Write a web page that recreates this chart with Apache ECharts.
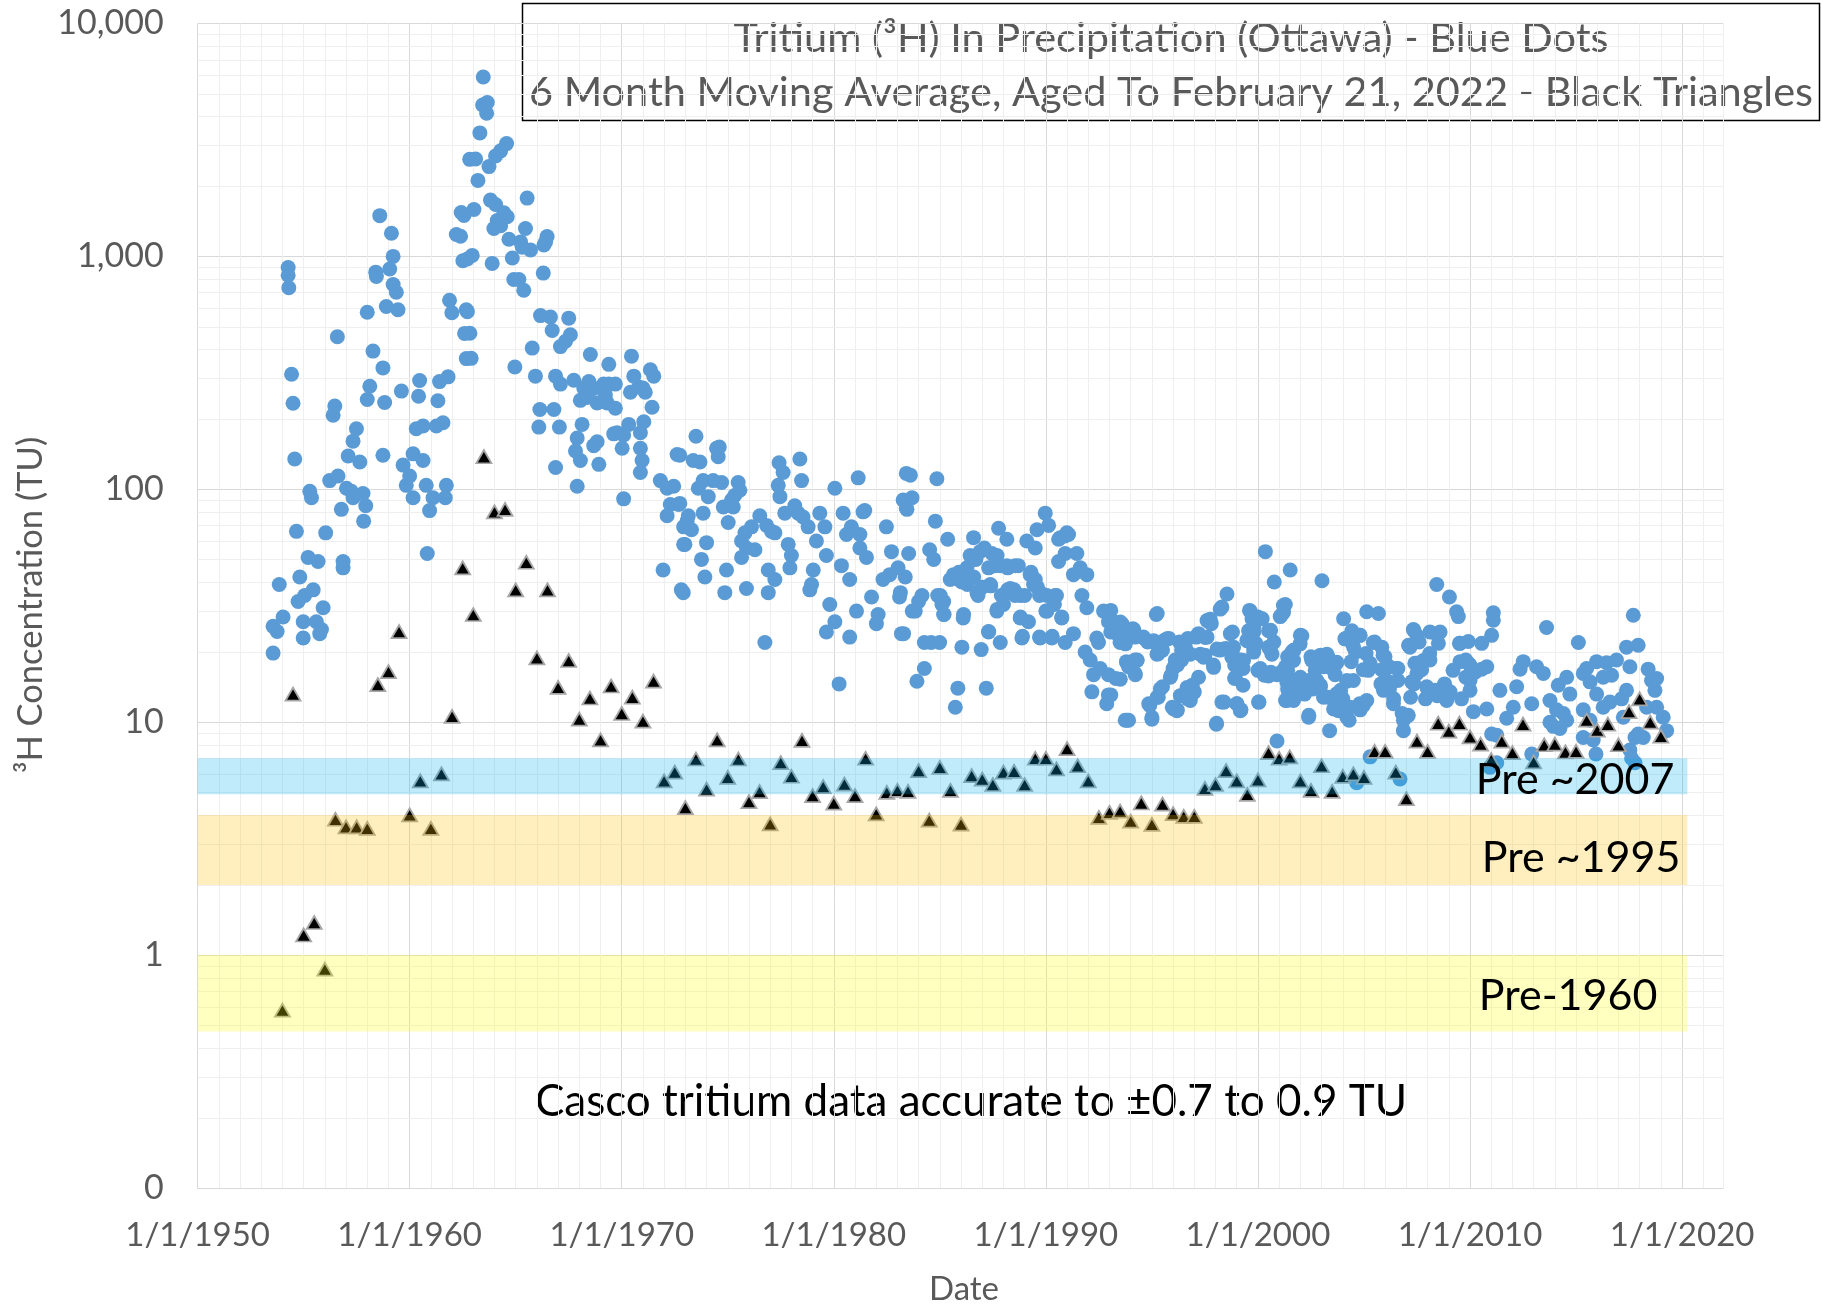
<!DOCTYPE html>
<html><head><meta charset="utf-8">
<script src="https://cdn.jsdelivr.net/npm/echarts@6/dist/echarts.min.js"></script>
<style>html,body{margin:0;padding:0;background:#fff}#chart{width:1822px;height:1306px}</style>
</head><body><div id="chart"></div>
<script>
// ---------- data ----------
const xTickYears = [1950, 1960, 1970, 1980, 1990, 2000, 2010, 2020];
const yTickValues = [0.1, 1, 10, 100, 1000, 10000];
const yTickLabels = ['0', '1', '10', '100', '1,000', '10,000'];
const bandNames = ['Pre ~2007', 'Pre ~1995', 'Pre-1960'];
const bandLow = [4.9, 2.0, 0.47];
const bandHigh = [7.0, 4.0, 1.0];

// Tritium in precipitation (Ottawa), [decimal year, TU]
const ottawaPrecip = [
[1953.56,19.8],[1953.56,25.8],[1953.75,24.5],[1953.85,39],[1954.03,28.3],
[1954.27,895],[1954.27,830],[1954.3,733],[1954.43,312],[1954.5,234],[1954.58,135],
[1954.66,66],[1954.74,33],[1954.82,42],[1954.98,27],[1954.98,23],[1955.05,35],
[1955.21,51],[1955.29,98],[1955.37,92],[1955.45,37],[1955.6,27],[1955.68,49],
[1955.76,24],[1955.84,25],[1955.92,31],[1956.04,65],[1956.23,109],[1956.39,208],
[1956.47,228],[1956.59,452],[1956.62,114],[1956.78,82],[1956.86,49],[1956.86,46],
[1957.02,101],[1957.1,139],[1957.25,98],[1957.33,92],[1957.33,161],[1957.49,182],
[1957.65,131],[1957.8,96],[1957.83,73],[1957.93,85],[1958.0,576],[1958.0,243],
[1958.12,277],[1958.27,392],[1958.4,856],[1958.43,820],[1958.59,1496],[1958.74,332],
[1958.74,140],[1958.82,236],[1958.9,609],[1959.06,883],[1959.14,1257],[1959.22,1000],
[1959.22,757],[1959.37,702],[1959.45,590],[1959.61,264],[1959.69,127],[1959.84,104],
[1960.0,114],[1960.16,142],[1960.16,92],[1960.31,182],[1960.42,251],[1960.47,293],
[1960.63,133],[1960.63,187],[1960.78,104],[1960.83,53],[1960.94,81],[1961.1,92],
[1961.26,187],[1961.33,240],[1961.41,290],[1961.57,193],[1961.68,92],[1961.73,104],
[1961.81,304],[1961.88,648],[1961.99,573],[1962.2,1242],[1962.43,1543],[1962.51,958],
[1962.59,467],[1962.67,590],[1962.67,364],[1962.83,2610],
[1962.4,1220],[1962.56,1500],[1962.72,974],[1962.72,579],[1962.84,468],[1962.9,365],
[1962.95,1010],[1963.03,1590],[1963.11,2620],[1963.22,2120],[1963.31,3390],[1963.44,4470],
[1963.47,5890],[1963.63,4120],[1963.66,4580],[1963.74,2430],[1963.81,1745],[1963.89,933],
[1963.97,1318],[1964.05,2700],[1964.05,1670],[1964.13,1426],[1964.29,2840],[1964.29,1353],
[1964.44,1540],[1964.57,3050],[1964.6,1480],[1964.68,1185],[1964.84,984],[1964.91,796],
[1964.96,335],[1965.15,796],[1965.23,1154],[1965.31,1096],[1965.38,716],[1965.46,1318],
[1965.54,1780],[1965.7,1065],[1965.78,404],[1965.93,306],[1966.09,185],[1966.14,220],
[1966.17,557],[1966.3,848],[1966.33,1120],[1966.41,1154],[1966.48,1216],[1966.64,549],
[1966.72,481],[1966.8,220],[1966.88,306],[1966.88,124],[1967.06,185],[1967.11,283],
[1967.11,410],[1967.35,432],[1967.5,543],[1967.58,461],[1967.74,294],[1967.82,146],
[1967.9,166],[1967.9,103],[1968.05,241],[1968.05,133],[1968.13,190],[1968.21,272],
[1968.37,248],[1968.45,290],[1968.52,379],[1968.68,271],[1968.68,154],[1968.84,235],
[1968.84,160],[1968.92,128],[1969.15,283],[1969.23,254],[1969.31,235],[1969.39,344],
[1969.39,283],[1969.62,173],[1969.7,283],[1969.7,223],[1969.78,175],[1970.02,150],
[1970.09,171],[1970.09,91],[1970.33,190],[1970.41,261],[1970.46,373],[1970.57,306],
[1970.8,275],[1970.88,175],[1970.88,150],[1970.88,118],[1970.96,133],[1971.0,272],
[1971.04,195],[1971.11,261],[1971.35,326],[1971.43,225],[1971.51,306],[1971.82,109],
[1971.95,45],[1972.14,101],[1972.14,77],[1972.29,86],[1972.45,103],[1972.61,141],
[1972.68,86],[1972.81,37],[1972.92,69],[1972.92,58],[1973.08,73],
[1972.74,140],[1972.74,87],[1972.9,36],[1972.98,58],[1973.14,77],[1973.29,67],
[1973.37,133],[1973.5,169],[1973.61,101],[1973.69,131],[1973.76,50],[1973.84,109],
[1973.84,79],[1973.92,42],[1974.0,59],[1974.08,93],[1974.31,109],[1974.47,150],
[1974.55,138],[1974.6,152],[1974.71,107],[1974.79,84],[1974.86,36],[1974.94,45],
[1975.02,72],[1975.18,90],[1975.26,84],[1975.33,94],[1975.49,107],[1975.57,99],
[1975.65,60],[1975.65,51],[1975.81,65],[1975.88,56],[1975.88,37.5],[1976.12,69],
[1976.28,55],[1976.51,77],[1976.75,22],[1976.83,70],[1976.91,45],[1976.91,36],
[1977.06,66],[1977.22,65],[1977.22,41],[1977.38,104],[1977.42,130],[1977.46,93],
[1977.61,118],[1977.69,79],[1977.85,58],[1977.93,46],[1978.0,52],[1978.16,85],
[1978.32,79],[1978.4,135],[1978.48,109],[1978.55,76],[1978.79,69],[1978.87,37],
[1978.95,39],[1979.03,45],[1979.18,60],[1979.34,79],[1979.58,69],[1979.65,52],
[1979.65,24.4],[1979.81,32],[1980.05,101],[1980.05,27],[1980.25,14.6],[1980.36,47],
[1980.44,79],[1980.6,64],[1980.75,41],[1980.75,23.2],[1980.83,69],[1981.07,30],
[1981.15,112],[1981.23,64],[1981.23,56],[1981.38,80],[1981.46,81],[1981.54,51],
[1981.78,34.5],[1982.01,26.5],[1982.09,29],[1982.32,41],[1982.48,69],[1982.64,43],
[1982.72,54],[1983.03,46],[1983.19,24],[1983.27,90],[1983.42,117],[1983.42,83],
[1983.14,36],[1983.29,24],[1983.37,42],[1983.45,82],[1983.53,53],[1983.61,115],
[1983.69,92],[1983.84,30],[1983.92,15],[1984.16,35],[1984.27,22],[1984.27,17],
[1984.52,55],[1984.59,22],[1984.71,50],[1984.79,73],[1984.86,111],[1984.99,22],
[1985.02,35],[1985.18,33],[1985.18,29],[1985.37,61],[1985.49,41],[1985.65,43],
[1985.73,11.6],[1985.85,14],[1985.88,41],[1986.04,21],[1986.12,29],[1986.2,41],
[1986.28,46],[1986.43,52],[1986.51,50],[1986.59,62],[1986.75,36],[1986.95,20.5],
[1986.98,38],[1987.19,14],[1987.3,24.5],[1987.38,39],[1987.46,53],[1987.69,30],
[1987.77,68],[1987.85,47],[1987.85,22],[1988.0,35],[1988.16,61],[1988.16,47],
[1988.32,37.5],[1988.55,47],[1988.55,35],[1988.79,28],[1988.87,23],[1989.1,60],
[1989.18,27],[1989.26,43],[1989.42,39],[1989.5,56],[1989.58,67],[1989.73,36],
[1989.73,23],[1989.97,79],[1990.05,35],[1990.05,30],[1990.13,70],[1990.28,23],
[1990.44,35],[1990.6,49],[1990.68,62],[1990.75,28],[1990.91,53],[1990.91,22],
[1990.99,65],[1991.07,64],[1991.3,43],[1991.3,24],[1991.46,53],[1991.62,46],
[1991.7,35],[1991.85,20],[1991.93,43],[1991.93,31],[1992.09,18.5],[1992.17,13.5],
[1992.25,16],[1992.4,23],[1992.48,22],[1992.56,17],[1992.72,30],[1992.87,12],
[1992.95,16],[1992.95,13.1],[1992.95,27],[1993.19,27],[1993.35,24],[1993.5,22],
[1993.58,26],[1993.74,10.2],[1993.82,18],
[1985.9,44],[1986.04,40],[1986.3,39],[1986.6,42],[1986.7,50],[1986.9,54],[1987.1,56],
[1987.3,46],[1987.6,47],[1987.7,52],[1988.2,46],[1988.7,47],[1989.3,44],[1989.5,41],
[1989.6,38],[1987.0,38],[1986.8,35],[1987.4,38.5],[1987.9,35],[1988.2,37],[1988.5,37],
[1988.8,35],[1989.0,35],[1987.7,30.5],[1988.0,32],[1989.7,35],[1990.0,30],[1990.4,32],
[1990.5,35],[1988.8,28.3],[1983.1,34.5],[1983.7,30],[1984.0,33],[1984.9,35],[1985.1,32],
[1985.2,29],[1986.1,28],[1987.3,24.4],[1988.9,23.4],[1989.7,23.2],[1990.3,23.4],
[1990.75,28.3],[1990.6,61],[1990.9,63],
[1993.51,26.9],[1993.51,15.3],[1993.67,24],[1993.75,21.7],[1993.83,10.2],[1993.98,18.1],
[1994.14,25],[1994.22,16],[1994.3,18.4],[1994.61,23],[1994.85,12],[1995.0,10.3],
[1995.08,22.4],[1995.21,29],[1995.24,19.6],[1995.24,12.8],[1995.4,13.9],[1995.71,22.8],
[1995.87,15.6],[1996.03,11.4],[1996.1,17.6],[1996.18,11.2],[1996.34,19],[1996.34,13],
[1996.58,21],[1996.66,14.1],[1996.81,19.6],[1996.81,12.4],[1996.89,13.2],[1997.13,23.5],
[1997.28,19.6],[1997.44,19],[1997.52,23.1],[1997.6,27.3],[1997.75,27.7],[1997.91,17.2],
[1998.04,9.8],[1998.07,20.6],[1998.22,30.6],[1998.3,12.2],[1998.38,20.6],[1998.54,35.5],
[1998.7,24],[1998.77,19],[1998.85,21],[1998.93,15.6],[1999.01,12],[1999.17,11.2],
[1999.32,18.4],[1999.48,22.4],[1999.56,24.7],[1999.64,30],[1999.72,27.8],[1999.8,25.6],
[1999.8,20],[2000.03,12.2],[2000.11,17],[2000.11,27.8],[2000.35,54],[2000.5,15.8],
[2000.5,24.7],[2000.5,21],[2000.66,19.6],[2000.77,40],[2000.9,16],[2000.9,8.3],
[2001.05,28.4],[2001.21,29.7],[2001.21,16.7],[2001.29,32],[2001.37,14.8],[2001.37,12.4],
[2001.52,45],[2001.52,14],[2001.68,18.4],[2001.68,20.3],[2001.68,12.4],[2001.6,20],
[2001.84,13.2],[2001.99,14.4],[2001.99,21.7],[2002.07,23.5],[2002.23,14.8],[2002.39,10.5],
[2002.54,18.4],[2002.78,15.1],[2002.94,14.1],[2003.02,40.5],[2003.09,12.8],[2003.25,19.6],
[2003.38,9.2],[2003.41,17.2],[2003.57,11.4],[2003.64,16],[2003.72,18.1],[2003.8,11.2],
[2003.88,13.2],[2004.04,27.8],[2004.19,23],[2004.19,15],[2004.19,10.5],[2004.43,24.7],
[2004.51,21],
[1993.06,30.2],[1993.2,25.6],[1993.6,26.4],[1993.06,24.4],[1994.1,25.2],[1994.2,23.2],
[1994.6,23.2],[1994.8,22.1],[1995.2,21.8],[1995.6,22.5],[1995.8,22.9],[1993.8,18.2],
[1994.2,18.5],[1994.3,18.5],[1994.2,16.2],[1993.9,17.3],[1993.3,15.4],[1993.06,13.1],
[1995.25,29.3],[1995.3,19.7],[1995.5,20.4],[1996.3,22.1],[1996.7,22.9],[1997.1,23.2],
[1997.6,23.2],[1997.2,24],[1996.4,20.4],[1996.6,19.7],[1996.1,18.5],[1995.9,15.9],
[1996.0,17],[1996.2,17.6],[1996.4,18.5],[1997.2,15.6],[1996.9,14.4],[1996.8,13.2],
[1996.4,13],[1996.7,12.6],[1997.0,13.5],[1995.5,14.2],[1995.3,12.8],[1994.9,11.8],
[1995.0,10.5],[1995.96,11.6],[1996.2,11.3],[1993.9,10.2],[1997.7,27.4],[1997.8,26.5],
[1998.3,31.2],[1998.8,24.4],[1998.2,20.4],[1998.5,20.7],[1998.8,20.4],[1997.5,19.4],
[1997.9,17.6],[1998.9,17.6],[1999.2,18.5],[1999.3,17],[1998.9,15.4],[1999.3,14.4],
[1999.0,12],[1999.2,11.3],[1998.4,12.2],[1998.05,9.9],[2000.05,12.2],[1999.6,30.2],
[2000.0,28.3],[2000.2,27.8],[1999.5,22.5],[1999.8,24.4],[1999.9,21.8],[1999.8,20.7],
[2000.6,24.8],[2000.6,20.4],[2000.75,22.1],[2000.0,16.7],[2000.3,15.9],[2000.6,16.4],
[2001.1,16.4],[2001.3,17.3],[2001.4,19.1],[2001.1,28.8],[2001.2,31.7],[2001.4,12.8],
[2002.0,23.6],[2001.7,20.4],[2004.1,22.8],[2004.8,23.6],[2004.4,22.1],[2005.5,22.1],
[2005.9,19.4],[2005.1,19.7],[2004.6,20],[2004.4,18.2],[2005.2,16.7],[2007.35,24.8],
[2007.1,21.4],[2007.6,22.1],[2008.4,24],[2008.1,19.7],[2007.8,18.4],[2007.4,17.9],
[2007.5,16.2],[2008.0,13.9],[2007.9,12.6],[2008.45,13],[2008.8,14.6],[2008.9,13.7],
[2009.2,16.7],[2009.5,21.8],[2009.8,18.5],[2009.8,15.6],[2009.6,12.6],[2002.5,19.1],
[2002.95,19.4],[2003.3,19.1],[2003.7,17.9],[2003.1,17.3],[2002.7,16.7],[2001.4,16.7],
[2001.7,15.1],[2002.0,15.6],[2002.4,15.1],[2002.6,13.9],[2002.2,13.2],[2001.4,13.9],
[2001.3,12.4],[2002.95,14.4],[2003.3,12.8],[2003.7,13.2],[2004.0,12.6],[2003.9,13.7],
[2004.2,15.1],[2003.7,11.8],[2004.1,11.6],[2004.3,10.2],[2004.8,12],[2004.8,11.4],
[2002.4,10.7],[2005.9,16.7],[2006.2,17.3],[2006.6,17],[2005.8,14.6],[2006.2,13.9],
[2006.4,12.6],[2006.6,15.1],[2007.2,12.8],[2007.35,14.6],[2006.8,10.9],[2010.0,17.6],
[2010.0,15.1],
[2004.34,23.2],[2004.34,11.6],[2004.5,15.1],[2004.66,5.5],[2004.82,23.6],[2004.82,11.3],
[2004.97,16.8],[2004.97,11.8],[2005.13,29.8],[2005.13,12.4],[2005.29,17.9],[2005.29,7.1],
[2005.44,22],[2005.68,29.3],[2005.84,21],[2005.84,16.8],[2005.92,13.7],[2005.99,19.1],
[2006.07,15.1],[2006.23,14.6],[2006.39,12],[2006.54,17],[2006.7,5.7],[2006.86,10.2],
[2006.86,9.2],[2007.09,10.7],[2007.17,21],[2007.25,14.9],[2007.33,25],[2007.49,23.6],
[2007.49,17.9],[2007.72,16.8],[2007.96,14.2],[2008.11,24.4],[2008.11,18.5],[2008.35,13.7],
[2008.43,39],[2008.51,21.8],[2008.59,24.4],[2008.74,14.2],[2008.9,12.4],[2009.03,34.5],
[2009.06,13.5],[2009.37,29.8],[2009.45,28.4],[2009.53,21.8],[2009.53,18.2],[2009.92,22.2],
[2009.92,17.9],[2010.0,13.7],[2010.16,11.1],[2010.24,16.4],[2010.55,21.8],[2010.55,16.9],
[2010.79,17.3],[2010.79,11.4],[2010.94,6.4],[2011.02,23.6],[2011.02,8.9],[2011.1,29.5],
[2011.1,27.4],[2011.26,8.8],[2011.26,6.7],[2011.41,13.7],[2011.73,10.4],[2012.04,11.6],
[2012.2,14.2],[2012.36,16.9],[2012.51,18.2],[2012.91,12],[2012.91,7.3],[2013.14,17.3],
[2013.46,16.2],[2013.61,25.5],[2013.77,12.4],[2013.77,10],[2013.93,9.6],[2014.08,11.3],
[2014.16,14.4],[2014.24,9.4],[2014.4,10.9],[2014.56,15.6],[2014.56,10.2],[2014.71,13.2],
[2015.11,22],[2015.34,16.2],[2015.34,11.3],[2015.34,8.6],[2015.5,17],[2015.66,14.9],
[2015.66,10.2],[2015.81,8.4],[2015.94,7.3],[2015.97,18.2],[2015.97,13.2],
[2016.28,15.6],[2016.28,11.6],[2016.44,18],[2016.6,12.2],[2016.68,15.9],[2016.91,18.5],
[2017.15,12.6],[2017.23,10.5],[2017.38,21],[2017.38,13.7],[2017.54,17.3],[2017.54,7.6],
[2017.62,7],[2017.7,28.8],[2017.78,8.6],[2017.78,6.7],[2017.93,21.4],[2017.93,8.9],
[2018.17,8.6],[2018.33,11.6],[2018.4,16.9],[2018.56,15.1],[2018.72,13.7],[2018.8,15.4],
[2018.8,11.6],[2019.11,10.5],[2019.27,9.2]
];

// 6 month moving average, aged to Feb 21, 2022, [decimal year, TU]
const agedAverage = [
[1954.0,0.58],[1954.5,13.2],[1955.0,1.22],[1955.5,1.38],[1956.0,0.87],[1956.5,3.83],
[1957.0,3.55],[1957.5,3.55],[1958.0,3.5],[1958.5,14.5],[1959.0,16.5],[1959.5,24.5],
[1960.0,4.0],[1960.5,5.6],[1961.0,3.5],[1961.5,6.0],[1962.0,10.6],[1962.5,46],
[1963.0,29],[1963.5,138],[1964.0,80],[1964.5,82],[1965.0,37],[1965.5,48.6],
[1966.0,18.9],[1966.5,37],[1967.0,14.1],[1967.5,18.4],[1968.0,10.3],[1968.5,12.7],
[1969.0,8.4],[1969.5,14.3],[1970.0,10.9],[1970.5,12.8],[1971.0,10.1],[1971.5,15.0],
[1972.0,5.6],[1972.5,6.1],[1973.0,4.3],[1973.5,6.95],[1974.0,5.16],[1974.5,8.4],
[1975.0,5.8],[1975.5,6.95],[1976.0,4.56],[1976.5,5.03],[1977.0,3.66],[1977.5,6.7],
[1978.0,5.86],[1978.5,8.35],[1979.0,4.84],[1979.5,5.29],[1980.0,4.49],[1980.5,5.42],
[1981.0,4.84],[1981.5,7.0],[1982.0,4.04],[1982.5,5.0],[1983.0,5.1],[1983.5,5.05],
[1984.0,6.2],[1984.5,3.8],[1985.0,6.4],[1985.5,5.1],[1986.0,3.65],[1986.5,5.9],
[1987.0,5.7],[1987.5,5.4],[1988.0,6.1],[1988.5,6.15],[1989.0,5.4],[1989.5,7.0],
[1990.0,7.0],[1990.5,6.3],[1991.0,7.7],[1991.5,6.5],[1992.0,5.6],[1992.5,3.9],
[1993.0,4.1],[1993.5,4.15],[1994.0,3.76],[1994.5,4.5],[1995.0,3.64],[1995.5,4.45],
[1996.0,4.05],[1996.5,3.94],[1997.0,3.94],[1997.5,5.2],[1998.0,5.4],[1998.5,6.2],
[1999.0,5.6],[1999.5,4.9],[2000.0,5.65],[2000.5,7.4],[2001.0,7.0],[2001.5,7.1],
[2002.0,5.6],[2002.5,5.1],[2003.0,6.5],[2003.5,5.05],[2004.0,5.85],[2004.5,6.0],
[2005.0,5.8],[2005.5,7.5],[2006.0,7.5],[2006.5,6.1],[2007.0,4.7],[2007.5,8.3],
[2008.0,7.5],[2008.5,9.9],[2009.0,9.15],[2009.5,9.9],[2010.0,8.65],[2010.5,8.05],
[2011.0,6.9],[2011.5,8.3],[2012.0,7.4],[2012.5,9.8],[2013.0,6.76],[2013.5,8.0],
[2014.0,8.05],[2014.5,7.45],[2015.0,7.5],[2015.5,10.2],[2016.0,9.25],[2016.5,9.8],
[2017.0,8.0],[2017.5,11.1],[2018.0,12.6],[2018.5,10.0],[2019.0,8.7]
];

// ---------- chart ----------
const X_MIN = 1950, X_MAX = 2021.93, BAND_END = 2020.25;
const FONT = 'Lato, "Noto Sans", sans-serif';
const GREY = '#595959';

// minor log gridlines (2..9 within each decade)
const minorY = [];
for (let i = 0; i < yTickValues.length - 1; i++) {
  for (let k = 2; k <= 9; k++) minorY.push(+(yTickValues[i] * k).toPrecision(3));
}
const xSplitColors = ['#d9d9d9'].concat(Array(9).fill('#efefef'));
const bandFill = ['rgba(0,176,240,0.25)', 'rgba(255,192,0,0.25)', 'rgba(255,255,0,0.25)'];
const bandLabelLayout = [{dx: -13, dy: 4}, {dx: -7, dy: 8}, {dx: -30, dy: 3}];

const chart = echarts.init(document.getElementById('chart'), null, {renderer: 'canvas'});
chart.setOption({
  animation: false,
  backgroundColor: '#ffffff',
  textStyle: {fontFamily: FONT},
  grid: {left: 197.6, right: 99, top: 23.5, bottom: 118, containLabel: false},
  xAxis: {
    type: 'value', min: X_MIN, max: X_MAX, interval: 1,
    axisLine: {show: true, lineStyle: {color: '#d9d9d9', width: 1}},
    axisTick: {show: false},
    axisLabel: {
      margin: 31, color: GREY, fontSize: 33, fontFamily: FONT,
      formatter: v => xTickYears.indexOf(v) >= 0 ? '1/1/' + v : ''
    },
    splitLine: {show: true, lineStyle: {color: xSplitColors, width: 1}}
  },
  yAxis: {
    type: 'log', logBase: 10, min: yTickValues[0], max: yTickValues[yTickValues.length - 1],
    axisLine: {show: false}, axisTick: {show: false},
    axisLabel: {
      margin: 34, color: GREY, fontSize: 34, fontFamily: FONT,
      formatter: v => {
        const idx = yTickValues.findIndex(t => Math.abs(Math.log10(t) - Math.log10(v)) < 1e-6);
        return idx >= 0 ? yTickLabels[idx] : '';
      }
    },
    splitLine: {show: true, lineStyle: {color: '#d9d9d9', width: 1}}
  },
  series: [
    {
      name: 'minorGrid', type: 'custom', z: 1, silent: true,
      data: minorY.map(v => [X_MIN, v]),
      encode: {x: 0, y: 1},
      renderItem: (params, api) => {
        const y = Math.round(api.coord([X_MIN, api.value(1)])[1]) + 0.5;
        const cs = params.coordSys;
        return {type: 'line', shape: {x1: cs.x, y1: y, x2: cs.x + cs.width, y2: y},
                style: {stroke: '#efefef', lineWidth: 1}};
      }
    },
    {
      name: 'Tritium in precipitation (Ottawa)', type: 'scatter', z: 2,
      data: ottawaPrecip, symbol: 'circle', symbolSize: 15,
      itemStyle: {color: '#5b9bd5', opacity: 1}
    },
    {
      name: '6 month moving average, aged', type: 'scatter', z: 3,
      data: agedAverage, symbol: 'triangle', symbolSize: [15, 13],
      itemStyle: {color: '#000000', borderColor: '#a6a6a6', borderWidth: 1.8, opacity: 1}
    },
    {
      name: 'bands', type: 'custom', z: 4, silent: true,
      data: bandNames.map((n, i) => [X_MIN, bandLow[i], bandHigh[i], i]),
      encode: {x: 0, y: [1, 2]},
      renderItem: (params, api) => {
        const i = api.value(3);
        const pTop = api.coord([X_MIN, api.value(2)]);
        const pBot = api.coord([BAND_END, api.value(1)]);
        const lay = bandLabelLayout[i];
        return {
          type: 'group',
          children: [
            {type: 'rect', shape: {x: pTop[0], y: pTop[1], width: pBot[0] - pTop[0], height: pBot[1] - pTop[1]},
             style: {fill: bandFill[i]}},
            {type: 'text', z2: 10,
             style: {text: bandNames[i], x: pBot[0] + lay.dx, y: (pTop[1] + pBot[1]) / 2 + lay.dy,
                      align: 'right', verticalAlign: 'middle', fill: '#000000',
                      font: '43px ' + FONT}}
          ]
        };
      }
    }
  ],
  graphic: [
    {type: 'group', z: 100, children: [
      {type: 'rect', shape: {x: 522.5, y: 3.5, width: 1297, height: 117},
       style: {fill: '#ffffff', stroke: '#000000', lineWidth: 1.5}},
      {type: 'text', style: {text: 'Tritium (³H) In Precipitation (Ottawa) - Blue Dots',
        x: 1171, y: 39, align: 'center', verticalAlign: 'middle', fill: GREY, font: '41.5px ' + FONT}},
      {type: 'text', style: {text: '6 Month Moving Average, Aged To February 21, 2022 - Black Triangles',
        x: 1171, y: 93, align: 'center', verticalAlign: 'middle', fill: GREY, font: '41.5px ' + FONT}}
    ]},
    {type: 'group', z: 100, children: [
      {type: 'rect', shape: {x: 534, y: 1067, width: 902, height: 78}, style: {fill: '#ffffff'}},
      {type: 'text', style: {text: 'Casco tritium data accurate to ±0.7 to 0.9 TU',
        x: 971, y: 1102, align: 'center', verticalAlign: 'middle', fill: '#000000', font: '44px ' + FONT}}
    ]},
    {type: 'text', z: 100, x: 964, y: 1289,
     style: {text: 'Date', align: 'center', verticalAlign: 'middle', fill: GREY, font: '33px ' + FONT}},
    {type: 'text', z: 100, x: 31, y: 605, rotation: Math.PI / 2,
     style: {text: '³H Concentration (TU)', align: 'center', verticalAlign: 'middle', fill: GREY, font: '34.5px ' + FONT}}
  ]
});
</script>
</body></html>
